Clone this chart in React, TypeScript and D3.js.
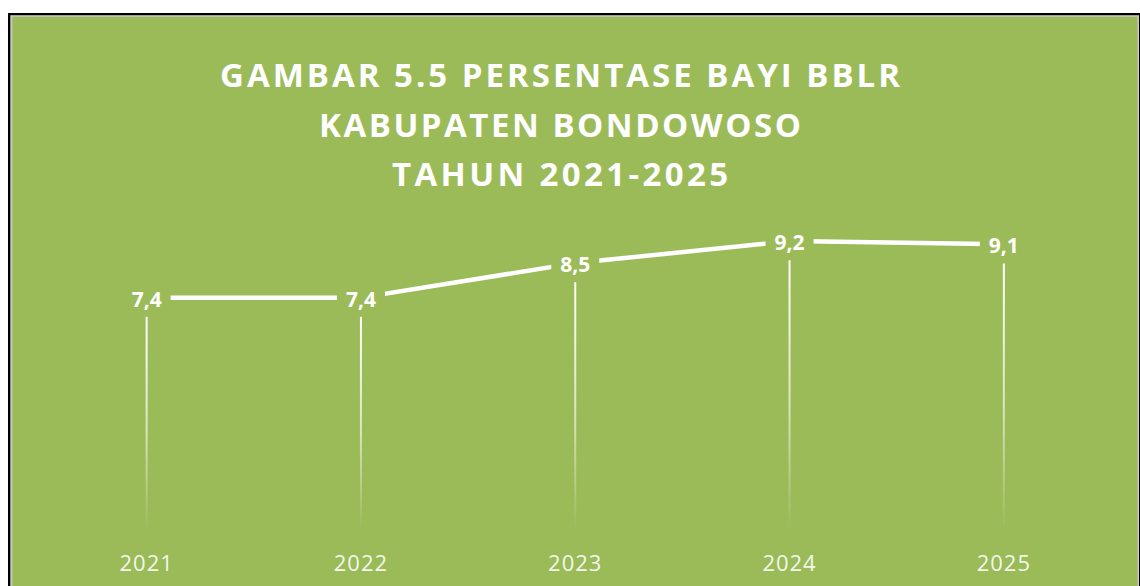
import React from "react";
import * as d3 from "d3";

const categories = ["2021", "2022", "2023", "2024", "2025"];
const values = [7.4, 7.4, 8.5, 9.2, 9.1];
const labels = ["7,4", "7,4", "8,5", "9,2", "9,1"];
const titleLines = [
  "GAMBAR 5.5 PERSENTASE BAYI BBLR",
  "KABUPATEN BONDOWOSO",
  "TAHUN 2021-2025",
];

const W = 1140;
const H = 586;
const GREEN = "#9BBB59";
const FONT = "'Open Sans', 'DejaVu Sans', sans-serif";

export default function App() {
  const x = d3.scaleBand<string>().domain(categories).range([39.5, 1111]).padding(0);
  const y = d3.scaleLinear().domain([0, 10]).range([530, 216]);
  const cx = (c: string) => (x(c) as number) + x.bandwidth() / 2;

  const pts: [number, number][] = categories.map((c, i) => [cx(c), y(values[i])]);
  const line = d3.line<[number, number]>().x((d) => d[0]).y((d) => d[1]);

  const titleWidths = [680, 482, 336];
  const titleBaselines = [87, 137, 186];

  return (
    <div style={{ position: "fixed", left: 0, top: 0, width: W, height: H }}>
      <svg width={W} height={H} viewBox={`0 0 ${W} ${H}`} style={{ display: "block" }}>
        <defs>
          {pts.map((p, i) => (
            <linearGradient
              key={i}
              id={`drop${i}`}
              gradientUnits="userSpaceOnUse"
              x1={0}
              x2={0}
              y1={p[1] + 19}
              y2={y(0)}
            >
              <stop offset="0%" stopColor="#ffffff" stopOpacity={1} />
              <stop offset="55%" stopColor="#ffffff" stopOpacity={0.6} />
              <stop offset="100%" stopColor="#ffffff" stopOpacity={0} />
            </linearGradient>
          ))}
        </defs>
        <rect x={0} y={0} width={W} height={H} fill="#ffffff" />
        <rect x={8} y={13} width={W - 8} height={H - 13} fill="#000000" />
        <rect x={10.3} y={15.2} width={1128.7} height={H - 15} fill="#c8c8c8" />
        <rect x={12.3} y={16.8} width={1125.2} height={H - 16} fill={GREEN} />

        {titleLines.map((t, i) => (
          <text
            key={i}
            x={560}
            y={titleBaselines[i]}
            textAnchor="middle"
            fill="#ffffff"
            fontFamily={FONT}
            fontWeight={700}
            fontSize={33}
            textLength={titleWidths[i]}
            lengthAdjust="spacing"
          >
            {t}
          </text>
        ))}

        {/* drop lines */}
        {pts.map((p, i) => (
          <rect
            key={i}
            x={p[0] - 1}
            y={p[1] + 19}
            width={2}
            height={y(0) - (p[1] + 19)}
            fill={`url(#drop${i})`}
          />
        ))}

        {/* series line */}
        <path d={line(pts) || ""} fill="none" stroke="#ffffff" strokeWidth={4.5} strokeLinejoin="round" />

        {/* data labels with background */}
        {pts.map((p, i) => (
          <g key={i}>
            <rect x={p[0] - 24} y={p[1] - 17} width={48} height={36} fill={GREEN} />
            <text
              x={p[0]}
              y={p[1] + 9}
              textAnchor="middle"
              fill="#ffffff"
              fontFamily={FONT}
              fontWeight={700}
              fontSize={21}
            >
              {labels[i]}
            </text>
          </g>
        ))}

        {/* category axis labels */}
        {categories.map((c) => (
          <text
            key={c}
            x={cx(c)}
            y={570.5}
            textAnchor="middle"
            fill="#ffffff"
            fillOpacity={0.9}
            fontFamily={FONT}
            fontSize={22}
            letterSpacing={1}
          >
            {c}
          </text>
        ))}
      </svg>
    </div>
  );
}
